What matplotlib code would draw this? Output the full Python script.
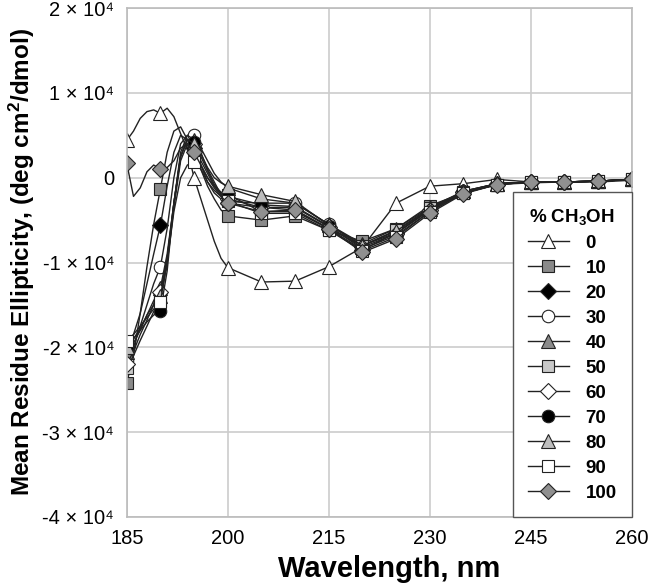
import numpy as np
import matplotlib
matplotlib.use("Agg")
import matplotlib.pyplot as plt

plt.rcParams['font.family'] = ['Liberation Sans', 'DejaVu Sans']
plt.rcParams['mathtext.fontset'] = 'custom'
plt.rcParams['mathtext.rm'] = 'Liberation Sans'
plt.rcParams['mathtext.bf'] = 'Liberation Sans:bold'

# wavelength grid (nm): 1 nm steps across the peak, 5 nm after
wavelength = [185, 186, 187, 188, 189, 190, 191, 192, 193, 194, 195, 196, 197, 198, 199, 200,
              205, 210, 215, 220, 225, 230, 235, 240, 245, 250, 255, 260]
marker_nm = [185, 190, 195, 200, 205, 210, 215, 220, 225, 230, 235, 240, 245, 250, 255, 260]

methanol = ['0', '10', '20', '30', '40', '50', '60', '70', '80', '90', '100']

# mean residue ellipticity, units of 1e4 deg cm2/dmol
mre_0 = [0.44, 0.55, 0.70, 0.78, 0.80, 0.76, 0.82, 0.72, 0.52, 0.33, 0.00, -0.25, -0.50, -0.75, -0.95, -1.06,
         -1.23, -1.22, -1.05, -0.82, -0.30, -0.10, -0.07, -0.02, -0.05, -0.05, -0.04, -0.02]
mre_10 = [-2.42, -2.10, -1.60, -1.05, -0.55, -0.13, 0.30, 0.55, 0.60, 0.45, 0.35, 0.10, -0.10, -0.25, -0.38, -0.45,
          -0.50, -0.45, -0.62, -0.75, -0.60, -0.33, -0.18, -0.08, -0.06, -0.05, -0.05, -0.03]
mre_20 = [-2.00, -1.85, -1.60, -1.25, -0.90, -0.56, -0.10, 0.30, 0.50, 0.45, 0.35, 0.15, -0.05, -0.18, -0.25, -0.30,
          -0.35, -0.38, -0.60, -0.85, -0.65, -0.38, -0.17, -0.07, -0.05, -0.05, -0.04, -0.02]
mre_30 = [-2.15, -2.00, -1.75, -1.50, -1.25, -1.05, -0.60, 0.00, 0.40, 0.50, 0.50, 0.30, 0.10, -0.05, -0.20, -0.28,
          -0.30, -0.30, -0.55, -0.80, -0.65, -0.38, -0.16, -0.07, -0.05, -0.05, -0.04, -0.02]
mre_40 = [-2.05, -1.95, -1.80, -1.62, -1.45, -1.30, -0.90, -0.30, 0.30, 0.50, 0.45, 0.35, 0.20, 0.05, -0.05, -0.12,
          -0.25, -0.30, -0.55, -0.78, -0.60, -0.35, -0.16, -0.07, -0.05, -0.05, -0.04, -0.02]
mre_50 = [-2.25, -2.10, -1.92, -1.75, -1.58, -1.45, -1.00, -0.35, 0.20, 0.40, 0.35, 0.15, 0.00, -0.10, -0.17, -0.20,
          -0.40, -0.40, -0.60, -0.80, -0.62, -0.36, -0.17, -0.08, -0.05, -0.05, -0.04, -0.02]
mre_60 = [-2.20, -2.05, -1.85, -1.68, -1.50, -1.35, -0.95, -0.30, 0.25, 0.45, 0.40, 0.20, 0.05, -0.10, -0.20, -0.25,
          -0.35, -0.35, -0.58, -0.82, -0.66, -0.38, -0.17, -0.07, -0.05, -0.05, -0.04, -0.02]
mre_70 = [-2.00, -1.90, -1.80, -1.70, -1.62, -1.57, -1.10, -0.30, 0.25, 0.45, 0.42, 0.25, 0.08, -0.08, -0.18, -0.22,
          -0.32, -0.34, -0.57, -0.84, -0.68, -0.40, -0.18, -0.08, -0.05, -0.05, -0.04, -0.02]
mre_80 = [-2.00, -1.90, -1.78, -1.62, -1.50, -1.40, -0.95, -0.30, 0.25, 0.45, 0.40, 0.28, 0.12, 0.00, -0.06, -0.10,
          -0.20, -0.28, -0.56, -0.80, -0.63, -0.37, -0.16, -0.07, -0.05, -0.05, -0.04, -0.02]
mre_90 = [-1.92, -1.85, -1.75, -1.65, -1.55, -1.46, -1.00, -0.40, 0.00, 0.15, 0.18, 0.10, -0.05, -0.15, -0.22, -0.28,
          -0.42, -0.42, -0.62, -0.86, -0.70, -0.40, -0.18, -0.08, -0.05, -0.05, -0.04, -0.02]
mre_100 = [0.17, -0.22, -0.12, 0.07, 0.15, 0.10, 0.12, 0.20, 0.35, 0.40, 0.30, 0.15, 0.00, -0.12, -0.22, -0.30,
           -0.40, -0.38, -0.60, -0.88, -0.72, -0.42, -0.19, -0.08, -0.05, -0.05, -0.04, -0.02]

series = [mre_0, mre_10, mre_20, mre_30, mre_40, mre_50, mre_60, mre_70, mre_80, mre_90, mre_100]
markers = ['^', 's', 'D', 'o', '^', 's', 'D', 'o', '^', 's', 'D']
fills = ['white', '#8a8a8a', 'black', 'white', '#8a8a8a', '#c8c8c8', 'white', 'black', '#bdbdbd', 'white', '#909090']
sizes = [10, 9, 8, 9, 10, 9, 8, 9, 10, 9, 8]

fig = plt.figure(figsize=(6.5, 5.84), dpi=100)
ax = fig.add_axes([0.195, 0.115, 0.777, 0.871])

wl = np.array(wavelength)
mark_idx = [i for i, w in enumerate(wavelength) if w in marker_nm]
for lab, vals, m, fc, ms in zip(methanol, series, markers, fills, sizes):
    ax.plot(wl, np.array(vals) * 1e4, color='#222222', lw=1.0, marker=m, markevery=mark_idx,
            mfc=fc, mec='#222222', mew=0.8, ms=ms, label=lab)

ax.set_xlim(185, 260)
ax.set_ylim(-4e4, 2e4)
ax.set_xticks([185, 200, 215, 230, 245, 260])
yt = [-4, -3, -2, -1, 0, 1, 2]
ax.set_yticks([v * 1e4 for v in yt])
ax.set_yticklabels(['0' if v == 0 else '%d × 10⁴' % v for v in yt])
ax.tick_params(labelsize=14.5, length=0, pad=9)
ax.grid(True, color='#cccccc', lw=1.2)
for s in ax.spines.values():
    s.set_color('#bbbbbb')
    s.set_linewidth(1.2)

ax.set_xlabel('Wavelength, nm', fontsize=21, fontweight='bold', labelpad=3)
ax.xaxis.set_label_coords(0.52, -0.075)
ax.set_ylabel(r'Mean Residue Ellipticity, (deg cm$\mathbf{^2}$/dmol)', fontsize=17.5, fontweight='bold')
ax.yaxis.set_label_coords(-0.178, 0.5)

leg = ax.legend(title=r'% CH$\mathbf{_3}$OH', loc='lower right', borderaxespad=0, fancybox=False,
                framealpha=1, edgecolor='#555555', prop={'weight': 'bold', 'size': 13.5},
                title_fontproperties={'weight': 'bold', 'size': 13.5}, handlelength=2.2,
                labelspacing=0.42, borderpad=0.8, handletextpad=0.9)
leg.get_frame().set_linewidth(1.0)

fig.savefig('out.png', dpi=100)
